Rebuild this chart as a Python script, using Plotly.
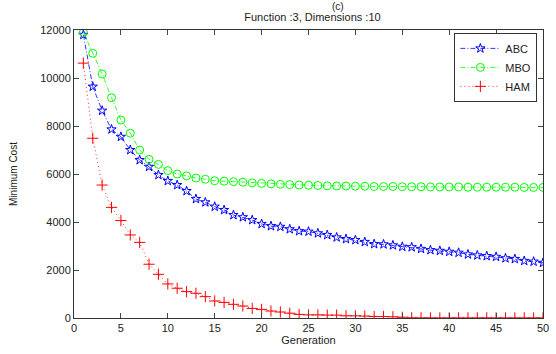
import plotly.graph_objects as go

generations = list(range(1, 51))
abc = [11800, 9640, 8640, 7860, 7550, 7000, 6580, 6300, 5960, 5710,
       5540, 5290, 4960, 4820, 4640, 4500, 4290, 4200, 4080, 3920,
       3830, 3800, 3700, 3620, 3600, 3530, 3460, 3360, 3290, 3250,
       3170, 3080, 3070, 3030, 2970, 2950, 2880, 2830, 2800, 2760,
       2720, 2650, 2610, 2580, 2550, 2490, 2460, 2380, 2350, 2300]
mbo = [11900, 11030, 10170, 9180, 8250, 7700, 7000, 6610, 6400, 6140,
       6000, 5920, 5830, 5780, 5720, 5700, 5680, 5660, 5630, 5610,
       5590, 5570, 5560, 5540, 5530, 5520, 5510, 5500, 5500, 5490,
       5490, 5480, 5480, 5480, 5470, 5470, 5470, 5460, 5460, 5460,
       5460, 5450, 5450, 5450, 5450, 5450, 5450, 5440, 5440, 5440]
ham = [10620, 7490, 5540, 4610, 4060, 3460, 3150, 2240, 1820, 1420,
       1240, 1100, 1030, 890, 710, 650, 570, 500, 400, 360,
       290, 250, 200, 150, 130, 130, 120, 120, 90, 90,
       80, 60, 60, 50, 30, 10, 5, 5, 5, 5,
       5, 5, 5, 5, 5, 5, 5, 5, 5, 5]
x_ticks = list(range(0, 51, 5))
y_ticks = list(range(0, 12001, 2000))

font = "Liberation Sans, Arial, sans-serif"

fig = go.Figure()
fig.add_trace(go.Scatter(
    x=generations, y=abc, name="ABC", mode="lines+markers",
    line=dict(color="#0000FF", width=0.8, dash="5px,2px,1px,2px"),
    marker=dict(symbol="star-open", size=7, color="#0000FF", line=dict(width=1, color="#0000FF"))))
fig.add_trace(go.Scatter(
    x=generations, y=mbo, name="MBO", mode="lines+markers",
    line=dict(color="#00FF00", width=0.8, dash="5px,2px,1px,2px"),
    marker=dict(symbol="circle-open", size=8, color="#00FF00", line=dict(width=1, color="#00FF00"))))
fig.add_trace(go.Scatter(
    x=generations, y=ham, name="HAM", mode="lines+markers",
    line=dict(color="#FF0000", width=0.8, dash="1px,3px"),
    marker=dict(symbol="cross-thin-open", size=8, color="#FF0000", line=dict(width=1, color="#FF0000"))))

fig.update_layout(
    width=556, height=354,
    margin=dict(l=74, r=7, t=30, b=36),
    paper_bgcolor="white", plot_bgcolor="white",
    font=dict(family=font, size=11, color="#222222"),
    title=dict(text="Function :3, Dimensions :10", x=0.562, xanchor="center",
               y=1 - 17 / 354, yanchor="middle", font=dict(size=11, family=font)),
    showlegend=True,
    legend=dict(x=0.988, xanchor="right", y=0.99, yanchor="top",
                bgcolor="white", bordercolor="#333333", borderwidth=1,
                font=dict(size=11, family=font), tracegroupgap=0,
                itemwidth=40),
    annotations=[dict(text="(c)", xref="paper", yref="paper", x=0.562, y=1 + 24 / 288,
                      yanchor="middle", showarrow=False, font=dict(size=10, family=font))],
)
fig.update_xaxes(
    range=[0, 50], tickvals=x_ticks, ticktext=[str(v) for v in x_ticks],
    ticks="inside", ticklen=5,
    showline=True, linecolor="#333333", linewidth=1, mirror="ticks", showgrid=False,
    zeroline=False, title=dict(text="Generation", standoff=2, font=dict(size=11)),
    tickfont=dict(size=11))
fig.update_yaxes(
    range=[0, 12000], tickvals=y_ticks, ticktext=[str(v) for v in y_ticks],
    ticks="inside", ticklen=5,
    showline=True, linecolor="#333333", linewidth=1, mirror="ticks", showgrid=False,
    zeroline=False, title=dict(text="Minimum Cost", standoff=20, font=dict(size=10)),
    tickfont=dict(size=11))

fig.write_html("out.html")
